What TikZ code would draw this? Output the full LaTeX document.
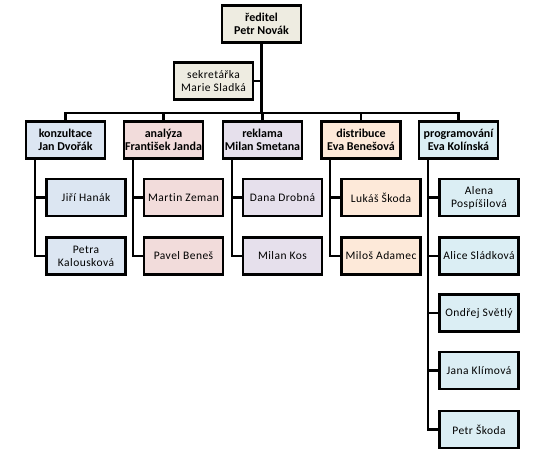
\documentclass[tikz,border=0pt]{standalone}
\usepackage{fontspec}
\setmainfont{Carlito}[Ligatures={NoCommon}]
\newfontfamily\spacedfont[LetterSpace=4,Ligatures={NoCommon}]{Carlito}
\begin{document}
\begin{tikzpicture}[x=1pt,y=-1pt,
  box/.style={draw=black,line width=2.8pt,rectangle,inner sep=0pt,
    minimum width=79pt,minimum height=37pt,align=center,
    font=\spacedfont\fontsize{11.5}{13}\selectfont},
  head/.style={box,font=\rmfamily\fontsize{12}{13.5}\selectfont\bfseries},
  conn/.style={line width=2.8pt,line join=miter},
  ]
\definecolor{cbeige}{HTML}{EEECE1}
\definecolor{cblue}{HTML}{DCE6F2}
\definecolor{cpink}{HTML}{F2DCDB}
\definecolor{clav}{HTML}{E6E0EC}
\definecolor{cpeach}{HTML}{FDE9D9}
\definecolor{caqua}{HTML}{DBEEF4}
\useasboundingbox (0,0) rectangle (539,453);

% director and secretary
\node[head,fill=cbeige] (d) at (261.5,24) {ředitel\\Petr Novák};
\node[box,fill=cbeige] (s) at (213.5,81) {sekretářka\\Marie Sladká};
\coordinate (bus) at (262,113);

% managers
\node[head,fill=cblue]  (m1) at (65.5,140) {konzultace\\Jan Dvořák};
\node[head,fill=cpink]  (m2) at (163.5,140) {analýza\\František Janda};
\node[head,fill=clav]   (m3) at (262.5,140) {reklama\\Milan Smetana};
\node[head,fill=cpeach] (m4) at (361,140) {distribuce\\Eva Benešová};
\node[head,fill=caqua]  (m5) at (458.5,140) {programování\\Eva Kolínská};

% children
\node[box,fill=cblue] (c11) at (86,197.5) {Jiří Hanák};
\node[box,fill=cblue] (c12) at (86,256) {Petra\\Kalousková};
\node[box,fill=cpink] (c21) at (183.5,197.5) {Martin Zeman};
\node[box,fill=cpink] (c22) at (183.5,256) {Pavel Beneš};
\node[box,fill=clav] (c31) at (282.5,197.5) {Dana Drobná};
\node[box,fill=clav] (c32) at (282.5,256) {Milan Kos};
\node[box,fill=cpeach] (c41) at (381,197.5) {Lukáš Škoda};
\node[box,fill=cpeach] (c42) at (381,256) {Miloš Adamec};
\node[box,fill=caqua] (c51) at (479,197.5) {Alena\\Pospíšilová};
\node[box,fill=caqua] (c52) at (479,256) {Alice Sládková};
\node[box,fill=caqua] (c53) at (479,313) {Ondřej Světlý};
\node[box,fill=caqua] (c54) at (479,370.5) {Jana Klímová};
\node[box,fill=caqua] (c55) at (479,429.5) {Petr Škoda};

% branch line coordinates
\coordinate (l1) at (35,0);
\coordinate (l2) at (133,0);
\coordinate (l3) at (232,0);
\coordinate (l4) at (330,0);
\coordinate (l5) at (428,0);

% top connectors
\draw[conn] (d.south) -- (d.south |- bus);
\draw[conn] (s.east) -- (s.east -| bus);
\draw[conn] (m1.north) |- (bus) -| (m5.north);
\draw[conn] (m2.north) -- (m2.north |- bus);
\draw[conn] (m3.north) -- (m3.north |- bus);
\draw[conn] (m4.north) -- (m4.north |- bus);

% child connectors
\draw[conn] (m1.south -| l1) |- (c12.west);
\draw[conn] (c11.west -| l1) -- (c11.west);
\draw[conn] (m2.south -| l2) |- (c22.west);
\draw[conn] (c21.west -| l2) -- (c21.west);
\draw[conn] (m3.south -| l3) |- (c32.west);
\draw[conn] (c31.west -| l3) -- (c31.west);
\draw[conn] (m4.south -| l4) |- (c42.west);
\draw[conn] (c41.west -| l4) -- (c41.west);
\draw[conn] (m5.south -| l5) |- (c55.west);
\draw[conn] (c51.west -| l5) -- (c51.west);
\draw[conn] (c52.west -| l5) -- (c52.west);
\draw[conn] (c53.west -| l5) -- (c53.west);
\draw[conn] (c54.west -| l5) -- (c54.west);
\end{tikzpicture}
\end{document}
